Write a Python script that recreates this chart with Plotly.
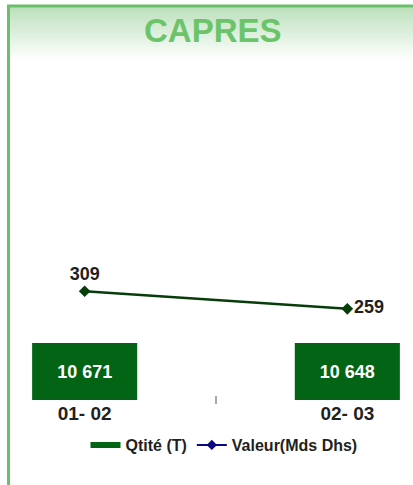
import plotly.graph_objects as go

categories = ["01- 02", "02- 03"]
qtite = [10671, 10648]
valeur = [309, 259]
qtite_labels = ["10 671", "10 648"]

W, H = 413, 485
ML, MR, MT, MB = 19, 0, 60, 85
PW, PH = W - ML - MR, H - MT - MB

def px_x(px):
    return (px - ML) / PW

def px_y(py):
    return (H - MB - py) / PH

xs = [0, 1]
FONT = "Liberation Sans"
TXT = "#231f20"

fig = go.Figure()
fig.add_trace(go.Bar(
    x=xs, y=qtite, width=0.4, marker=dict(color="#026414", line=dict(width=0)),
    text=qtite_labels, textposition="inside", insidetextanchor="middle",
    textfont=dict(color="white", size=18, family=FONT, weight="bold"),
    showlegend=False, yaxis="y", cliponaxis=False,
))
fig.add_trace(go.Scatter(
    x=xs, y=valeur, mode="lines+markers+text", yaxis="y2",
    line=dict(color="#063d0a", width=2.5),
    marker=dict(symbol="diamond", size=9, color="#063d0a"),
    text=[str(v) for v in valeur], textposition=["top center", "middle right"],
    textfont=dict(color=TXT, size=18, family=FONT, weight="bold"),
    showlegend=False, cliponaxis=False,
))
# legend entries
fig.add_trace(go.Scatter(x=[None], y=[None], mode="lines", name="Qtité (T)",
                         line=dict(color="#026414", width=6)))
fig.add_trace(go.Scatter(x=[None], y=[None], mode="lines+markers", name="Valeur(Mds Dhs)",
                         line=dict(color="#0a0a80", width=2),
                         marker=dict(symbol="diamond", size=8, color="#0a0a80")))

shapes = []
# gradient title band
top, bot = 7, 61
n = 27
c0 = (189, 224, 189)
for i in range(n):
    y0 = top + (bot - top) * i / n
    y1 = top + (bot - top) * (i + 1) / n
    t = i / (n - 1)
    c = tuple(round(a + (255 - a) * t) for a in c0)
    shapes.append(dict(type="rect", xref="paper", yref="paper",
                       x0=px_x(9), x1=px_x(W), y0=px_y(y1 + 0.3), y1=px_y(y0),
                       fillcolor="rgb(%d,%d,%d)" % c, line=dict(width=0), layer="below"))
# borders
shapes.append(dict(type="line", xref="paper", yref="paper", x0=px_x(7), x1=px_x(W),
                   y0=px_y(6), y1=px_y(6), line=dict(color="#6cbf6a", width=3)))
shapes.append(dict(type="line", xref="paper", yref="paper", x0=px_x(8.5), x1=px_x(8.5),
                   y0=px_y(5), y1=px_y(H), line=dict(color="#6cbf6a", width=3)))
# middle category tick
shapes.append(dict(type="line", xref="x", yref="paper", x0=0.5, x1=0.5,
                   y0=px_y(404), y1=px_y(396), line=dict(color="#555555", width=1)))

fig.update_layout(
    width=W, height=H, margin=dict(l=ML, r=MR, t=MT, b=MB),
    paper_bgcolor="white", plot_bgcolor="rgba(0,0,0,0)",
    shapes=shapes,
    xaxis=dict(range=[-0.25, 1.25], tickvals=xs, ticktext=categories,
               showgrid=False, zeroline=False, showline=False, ticks="",
               tickfont=dict(color=TXT, size=19, family=FONT, weight="bold")),
    yaxis=dict(range=[0, 63650], visible=False, showgrid=False),
    yaxis2=dict(range=[0, 966], overlaying="y", visible=False, showgrid=False),
    legend=dict(orientation="h", x=px_x(224), xanchor="center", y=px_y(445), yanchor="middle",
                font=dict(color=TXT, size=16, family=FONT, weight="bold"),
                itemwidth=30, tracegroupgap=0, bgcolor="rgba(0,0,0,0)"),
    annotations=[dict(text="CAPRES", xref="paper", yref="paper", x=px_x(213), y=px_y(30),
                      xanchor="center", yanchor="middle", showarrow=False,
                      font=dict(color="#6cc46a", size=33, family=FONT, weight="bold"))],
)

fig.write_html("out.html", config={"displayModeBar": False},
               post_script="document.body.style.margin='0';")
